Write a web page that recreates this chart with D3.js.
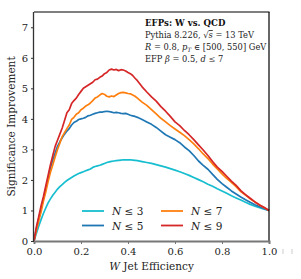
<!DOCTYPE html>
<html><head><meta charset="utf-8">
<script src="https://cdn.jsdelivr.net/npm/d3@7"></script>
<style>body{margin:0;background:#fff}svg{display:block}</style>
</head><body><svg id="c" width="301" height="279"></svg>
<script>
const efficiency = [0,0.01,0.02,0.03,0.04,0.05,0.06,0.07,0.08,0.09,
 0.10,0.11,0.12,0.13,0.14,0.15,0.16,0.17,0.18,0.19,
 0.20,0.21,0.22,0.23,0.24,0.25,0.26,0.27,0.28,0.29,
 0.30,0.31,0.32,0.33,0.34,0.35,0.36,0.37,0.38,0.39,
 0.40,0.41,0.42,0.43,0.44,
 0.46,0.48,0.50,0.52,0.54,0.56,0.58,0.60,0.62,0.64,0.66,0.68,0.70,0.72,0.74,0.76,0.78,0.80,0.82,0.84,0.86,0.88,0.90,0.92,0.94,0.96,0.98,1.0];
const n3 = [0,0.25,0.48,0.7,0.9,1.08,1.25,1.38,1.5,1.6,
 1.7,1.78,1.85,1.92,1.98,2.03,2.08,2.13,2.17,2.21,
 2.24,2.27,2.3,2.33,2.36,2.41,2.44,2.46,2.48,2.51,
 2.54,2.57,2.59,2.61,2.62,2.63,2.64,2.65,2.66,2.66,
 2.66,2.66,2.65,2.64,2.63,
 2.6,2.57,2.54,2.5,2.46,2.42,2.37,2.32,2.27,2.21,2.15,2.08,2.01,1.94,1.86,1.79,1.71,1.64,1.56,1.48,1.41,1.34,1.27,1.2,1.14,1.09,1.04,1.0];
const n5 = [0,0.4,0.72,1.05,1.38,1.7,2.05,2.4,2.65,2.88,
 3.1,3.25,3.38,3.5,3.6,3.68,3.8,3.88,3.92,3.98,
 4.0,4.02,4.05,4.1,4.12,4.15,4.18,4.2,4.22,4.22,
 4.24,4.25,4.24,4.22,4.2,4.21,4.2,4.18,4.17,4.18,
 4.15,4.12,4.1,4.08,4.05,
 3.98,3.9,3.82,3.72,3.6,3.48,3.4,3.32,3.22,3.08,2.96,2.8,2.62,2.48,2.35,2.18,2.02,1.88,1.76,1.64,1.54,1.44,1.35,1.27,1.19,1.12,1.06,1.0];
const n7 = [0,0.35,0.65,0.95,1.3,1.6,1.95,2.25,2.5,2.75,
 3.0,3.2,3.42,3.55,3.68,3.8,3.98,4.05,4.15,4.2,
 4.3,4.35,4.42,4.46,4.52,4.6,4.68,4.72,4.78,4.83,
 4.8,4.74,4.72,4.75,4.73,4.78,4.83,4.86,4.87,4.85,
 4.83,4.82,4.78,4.74,4.68,
 4.55,4.44,4.3,4.16,4.02,3.9,3.78,3.67,3.56,3.45,3.32,3.18,3.02,2.85,2.7,2.52,2.36,2.2,2.05,1.92,1.78,1.62,1.5,1.38,1.28,1.18,1.09,1.0];
const n9 = [0,0.45,0.8,1.15,1.45,1.8,2.15,2.5,2.8,3.1,
 3.3,3.5,3.7,3.95,4.2,4.3,4.5,4.6,4.68,4.8,
 4.9,5.0,5.05,5.1,5.15,5.2,5.28,5.3,5.36,5.4,
 5.48,5.52,5.6,5.63,5.6,5.62,5.58,5.61,5.6,5.57,
 5.52,5.48,5.42,5.33,5.25,
 5.05,4.88,4.72,4.58,4.4,4.25,4.08,3.9,3.78,3.62,3.48,3.32,3.15,2.98,2.8,2.6,2.42,2.28,2.12,1.96,1.82,1.65,1.52,1.4,1.28,1.18,1.1,1.0];
const seriesNames = ["3","5","7","9"];
const seriesValues = [n3,n5,n7,n9];
const seriesColors = ["#17becf","#1f77b4","#ff7f0e","#d62728"];
const xTicks = [0,0.2,0.4,0.6,0.8,1.0];
const yTicks = [0,1,2,3,4,5,6,7];

const FONT = "DejaVu Serif";
const svg = d3.select("#c").attr("font-family",FONT);
const X0=34, X1=269, Y0=12, Y1=241;
const x = d3.scaleLinear().domain([0,1]).range([X0,X1]);
const y = d3.scaleLinear().domain([0,7.5]).range([Y1,Y0]);

const line = d3.line().x((d,i)=>x(efficiency[i])).y(d=>y(d));
seriesValues.forEach((vals,k)=>{
  svg.append("path").attr("d",line(vals)).attr("fill","none")
    .attr("stroke",seriesColors[k]).attr("stroke-width",1.7).attr("stroke-linejoin","round");
});

svg.append("line").attr("x1",X0).attr("x2",X1+0.5).attr("y1",Y0).attr("y2",Y0).attr("stroke","#000").attr("stroke-width",1.2);
svg.append("line").attr("x1",X1).attr("x2",X1).attr("y1",Y0).attr("y2",Y1).attr("stroke","#000").attr("stroke-width",1.2);

const ax = svg.append("g").attr("transform",`translate(0,${Y1})`)
  .call(d3.axisBottom(x).tickValues(xTicks).tickFormat(d3.format(".1f")).tickSize(3).tickPadding(4));
ax.attr("font-family",FONT);
ax.select(".domain").attr("stroke","#777").attr("stroke-width",2);
ax.selectAll(".tick line").attr("stroke","#777");
ax.selectAll("text").attr("font-size",10).attr("fill","#222").attr("font-family",FONT);

const ay = svg.append("g").attr("transform",`translate(${X0},0)`)
  .call(d3.axisLeft(y).tickValues(yTicks).tickFormat(d3.format("d")).tickSize(3).tickPadding(3));
ay.attr("font-family",FONT);
ay.select(".domain").attr("stroke","#333").attr("stroke-width",1.3).attr("d",`M-0.5,${Y1}V${Y0}`);
ay.selectAll(".tick line").attr("stroke","#333");
ay.selectAll("text").attr("font-size",10).attr("fill","#222").attr("font-family",FONT);

const xl = svg.append("text").attr("x",(X0+X1)/2).attr("y",270).attr("text-anchor","middle").attr("font-size",10.5).attr("fill","#222").attr("font-family",FONT);
xl.append("tspan").attr("font-style","italic").text("W");
xl.append("tspan").text(" Jet Efficiency");
svg.append("text").attr("transform",`translate(15,${(Y0+Y1)/2}) rotate(-90)`).attr("text-anchor","middle")
  .attr("font-size",10.5).attr("fill","#222").attr("font-family",FONT).text("Significance Improvement");

const tx = 145, fs = 8.3;
svg.append("text").attr("x",tx).attr("y",26).attr("font-size",8.6).attr("font-weight","bold").attr("fill","#111").attr("font-family",FONT).text("EFPs: W vs. QCD");
const t2 = svg.append("text").attr("x",tx).attr("y",38).attr("font-size",fs).attr("fill","#222").attr("font-family",FONT);
t2.append("tspan").text("Pythia 8.226, √");
t2.append("tspan").attr("font-style","italic").attr("text-decoration","overline").text("s");
t2.append("tspan").text(" = 13 TeV");
const t3 = svg.append("text").attr("x",tx).attr("y",50).attr("font-size",fs).attr("fill","#222").attr("font-family",FONT);
t3.append("tspan").attr("font-style","italic").text("R");
t3.append("tspan").text(" = 0.8, ");
t3.append("tspan").attr("font-style","italic").text("p");
t3.append("tspan").attr("font-style","italic").attr("font-size",6).attr("dy",2).text("T");
t3.append("tspan").attr("dy",-2).text(" ∈ [500, 550] GeV");
const t4 = svg.append("text").attr("x",tx).attr("y",62).attr("font-size",fs).attr("fill","#222").attr("font-family",FONT);
t4.append("tspan").text("EFP ");
t4.append("tspan").attr("font-style","italic").text("β");
t4.append("tspan").text(" = 0.5, ");
t4.append("tspan").attr("font-style","italic").text("d");
t4.append("tspan").text(" ≤ 7");

const legPos = [[82,211],[82,225.5],[161,211],[161,225.5]];
seriesNames.forEach((n,k)=>{
  const [lx,ly] = legPos[k];
  svg.append("line").attr("x1",lx).attr("x2",lx+22).attr("y1",ly).attr("y2",ly)
    .attr("stroke",seriesColors[k]).attr("stroke-width",1.8);
  const t = svg.append("text").attr("x",lx+30).attr("y",ly+4).attr("font-size",10.5).attr("fill","#222").attr("font-family",FONT);
  t.append("tspan").attr("font-style","italic").text("N");
  t.append("tspan").text(" ≤ "+n);
});

svg.append("line").attr("x1",283).attr("x2",283).attr("y1",249).attr("y2",254).attr("stroke","#ccc");
svg.append("line").attr("x1",292).attr("x2",292).attr("y1",249).attr("y2",254).attr("stroke","#ccc");
</script></body></html>
